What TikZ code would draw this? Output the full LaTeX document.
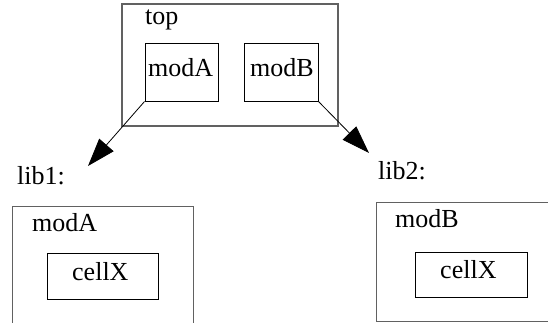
\documentclass[tikz,border=0pt]{standalone}
\usepackage{fontspec}
\setmainfont{Liberation Serif}
\usetikzlibrary{arrows.meta}
\begin{document}
\begin{tikzpicture}[x=1pt,y=-1pt,
  outerbox/.style={draw=black!62,line width=1.1pt,inner sep=0pt},
  innerbox/.style={draw=black,line width=1pt,inner sep=0pt},
  lbl/.style={anchor=base west,inner sep=0pt,font=\fontsize{26}{30}\selectfont},
  conn/.style={draw=black,line width=0.8pt,-{Triangle[length=28pt,width=19pt]}}]
\useasboundingbox (0,0) rectangle (548,322);
\clip (0,0) rectangle (548,322);
% top
\node[outerbox,minimum width=216pt,minimum height=122pt] (topbox) at (230,65) {};
\node[lbl] (toplbl) at (145,24) {top};
\node[innerbox,minimum width=73pt,minimum height=58pt] (mA) at (181.5,72) {};
\node[innerbox,minimum width=74pt,minimum height=58pt] (mB) at (281,72) {};
\node[lbl] (mAlbl) at (148,76) {modA};
\node[lbl] (mBlbl) at (250,76) {modB};
% libs
\node[lbl] (lib1) at (17,184) {lib1:};
\node[lbl] (lib2) at (378,179) {lib2:};
\coordinate (t1) at (88,166);
\coordinate (t2) at (369,153);
\draw[conn] (mA.south west) -- (t1);
\draw[conn] (mB.south east) -- (t2);
% lib1 box
\node[outerbox,minimum width=181pt,minimum height=140pt,anchor=north west] (l1box) at (12,206) {};
\node[lbl] (l1mod) at (32,231) {modA};
\node[innerbox,minimum width=111pt,minimum height=46pt,anchor=north west] (c1) at (47,253) {};
\node[lbl] (c1lbl) at (72,280) {cellX};
% lib2 box
\node[outerbox,minimum width=200pt,minimum height=119pt,anchor=north west] (l2box) at (376,202) {};
\node[lbl] (l2mod) at (395,227) {modB};
\node[innerbox,minimum width=112pt,minimum height=45pt,anchor=north west] (c2) at (415,252) {};
\node[lbl] (c2lbl) at (440,278) {cellX};
\end{tikzpicture}
\end{document}
